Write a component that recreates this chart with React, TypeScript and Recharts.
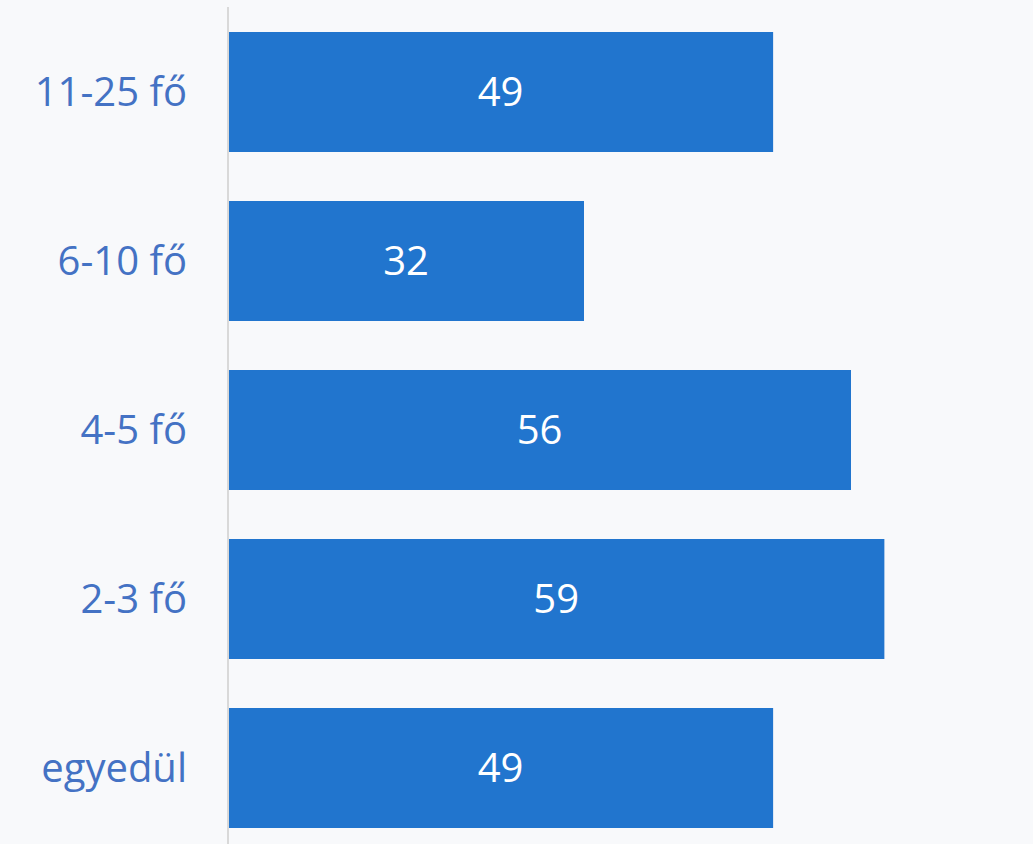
import React from "react";
import { BarChart, Bar, XAxis, YAxis, LabelList } from "recharts";

const categories = ["11-25 fő", "6-10 fő", "4-5 fő", "2-3 fő", "egyedül"];
const values = [49, 32, 56, 59, 49];

const data = categories.map((name, i) => ({ name, value: values[i] }));

export default function App() {
  return (
    <div style={{ position: "absolute", left: 0, top: 0, width: 1033, height: 844, background: "#f8f9fb", overflow: "hidden" }}>
      <BarChart
        width={1033}
        height={852}
        data={data}
        layout="vertical"
        margin={{ top: 7, right: 4, bottom: 0, left: 0 }}
        barSize={120}
      >
        <XAxis type="number" domain={[0, 72]} hide />
        <YAxis
          type="category"
          dataKey="name"
          width={228}
          axisLine={{ stroke: "#d9d9d9", strokeWidth: 2 }}
          tickLine={false}
          tickSize={0}
          tickMargin={41}
          tick={{ fill: "#4472c4", fontSize: 40, fontFamily: "Open Sans" }}
        />
        <Bar dataKey="value" fill="#2175ce" isAnimationActive={false}>
          <LabelList dataKey="value" position="center" fill="#ffffff" fontSize={40} fontFamily="Open Sans" />
        </Bar>
      </BarChart>
    </div>
  );
}
